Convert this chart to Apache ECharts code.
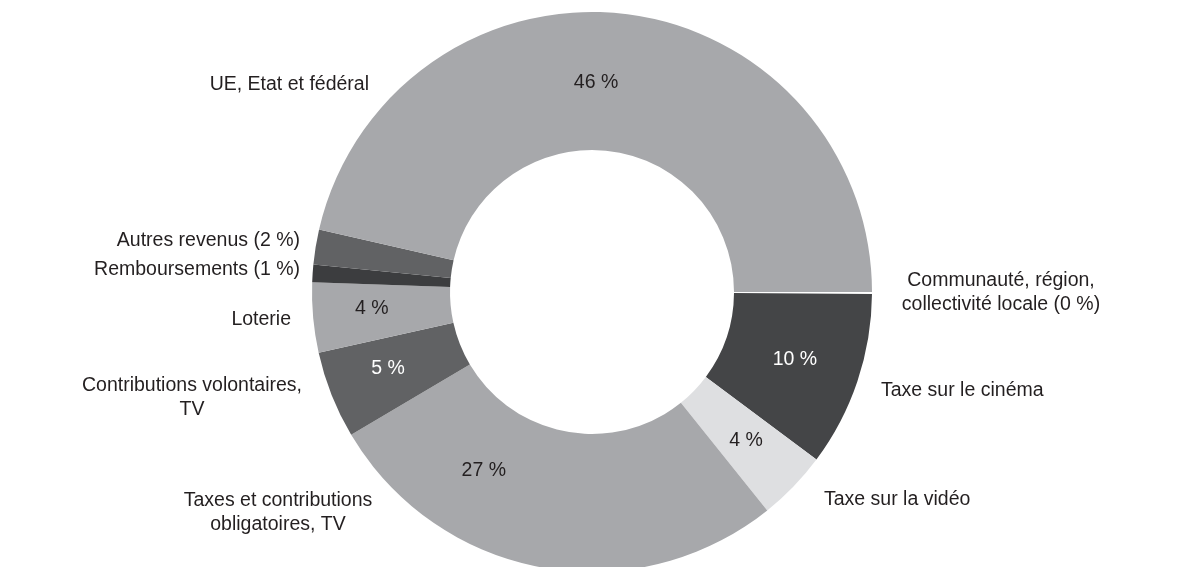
<!DOCTYPE html>
<html>
<head>
<meta charset="utf-8">
<script src="https://cdn.jsdelivr.net/npm/echarts@6/dist/echarts.min.js"></script>
<style>
  html, body { margin: 0; padding: 0; background: #ffffff; }
  #chart { width: 1177px; height: 567px; }
</style>
</head>
<body>
<div id="chart"></div>
<script>
// Funding sources, clockwise from 3 o'clock
const categories = [
  'Communauté, région,\ncollectivité locale (0 %)',
  'Taxe sur le cinéma',
  'Taxe sur la vidéo',
  'Taxes et contributions\nobligatoires, TV',
  'Contributions volontaires,\nTV',
  'Loterie',
  'Remboursements (1 %)',
  'Autres revenus (2 %)',
  'UE, Etat et fédéral'
];
// Share of total, in percent
const shares = [0, 10, 4, 27, 5, 4, 1, 2, 46];
// Whether the percentage is printed inside the ring
const shareInside = [false, true, true, true, true, true, false, false, true];

// ---- styling ----
const FONT = 'Liberation Sans, Arial, Helvetica, sans-serif';
const FONT_SIZE = 19.5;
const TEXT = '#231f20';
const palette = ['#ffffff', '#444547', '#dedfe1', '#a7a8ab', '#616264', '#a7a8ab', '#3c3d3f', '#616264', '#a7a8ab'];
const insideTextColor = ['#fff', '#fff', TEXT, TEXT, '#fff', TEXT, '#fff', '#fff', TEXT];

const center = [592, 292];
const radius = [142, 280];

// Nudges for percentage labels that sit off the slice's middle
const insideNudge = { 3: [-70, -32], 8: [-20, 3], 4: [-5, -2], 5: [-7, -3] };

// Where each category name sits around the ring
const namePlacement = [
  { x: 1001, y: 293, align: 'center' },
  { x: 881, y: 391, align: 'left' },
  { x: 824, y: 500, align: 'left' },
  { x: 278, y: 513, align: 'center' },
  { x: 192, y: 398, align: 'center' },
  { x: 291, y: 320, align: 'right' },
  { x: 300, y: 270, align: 'right' },
  { x: 300, y: 241, align: 'right' },
  { x: 369, y: 85, align: 'right' }
];

const ringData = categories.map((name, i) => ({
  name: name,
  value: shares[i],
  itemStyle: { color: palette[i] },
  label: { show: shareInside[i], color: insideTextColor[i] }
}));

const nameData = categories.map((name, i) => ({
  name: name,
  value: shares[i]
}));

const chart = echarts.init(document.getElementById('chart'), null, { renderer: 'canvas' });

chart.setOption({
  animation: false,
  backgroundColor: '#ffffff',
  series: [
    {
      type: 'pie',
      center: center,
      radius: radius,
      startAngle: 0,
      clockwise: true,
      minAngle: 0.4,
      avoidLabelOverlap: false,
      silent: true,
      itemStyle: { borderWidth: 0 },
      emphasis: { disabled: true },
      label: {
        position: 'inside',
        fontFamily: FONT,
        fontSize: FONT_SIZE,
        formatter: p => p.value + ' %'
      },
      labelLine: { show: false },
      labelLayout: params => {
        const n = insideNudge[params.dataIndex];
        return n ? { dx: n[0], dy: n[1] } : {};
      },
      data: ringData
    },
    {
      // same slices, invisible, carrying the category names
      type: 'pie',
      center: center,
      radius: radius,
      startAngle: 0,
      clockwise: true,
      minAngle: 0.4,
      avoidLabelOverlap: false,
      silent: true,
      itemStyle: { color: 'rgba(0,0,0,0)', borderWidth: 0 },
      emphasis: { disabled: true },
      label: {
        show: true,
        position: 'outside',
        overflow: 'none',
        fontFamily: FONT,
        fontSize: FONT_SIZE,
        lineHeight: 24,
        color: TEXT,
        formatter: p => p.name
      },
      labelLine: { show: false },
      labelLayout: params => {
        const p = namePlacement[params.dataIndex];
        return { x: p.x, y: p.y, align: p.align, verticalAlign: 'middle' };
      },
      data: nameData
    }
  ]
});
</script>
</body>
</html>
